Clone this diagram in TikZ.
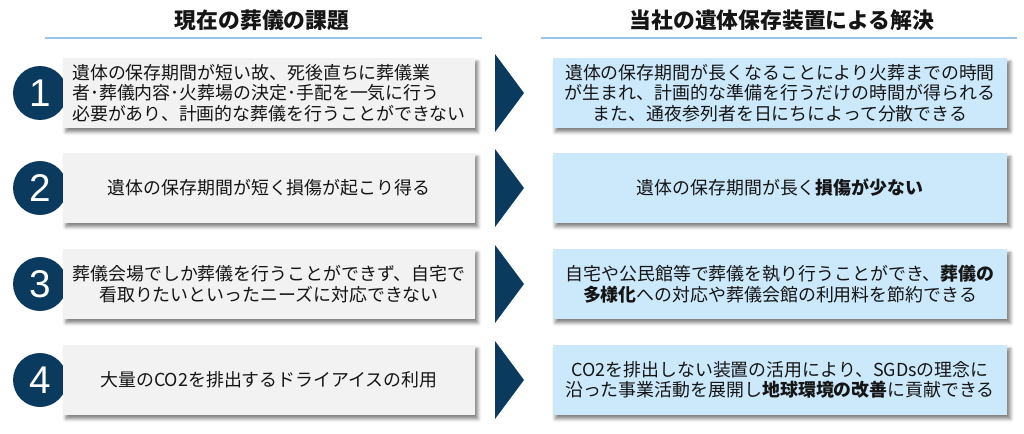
\documentclass[tikz,border=0pt]{standalone}
\usepackage{fontspec}
\setmainfont{Noto Sans CJK JP}
\newfontfamily\numfont{Liberation Sans}
\usetikzlibrary{shadows.blur}

\definecolor{navy}{HTML}{0B3A5F}
\definecolor{boxgray}{HTML}{F2F2F2}
\definecolor{boxblue}{HTML}{CCE9FC}
\definecolor{rulecol}{HTML}{9DC3E6}
\definecolor{inkcol}{HTML}{151515}

\tikzset{
  problem/.style={fill=boxgray, minimum width=8.24cm, minimum height=1.4cm,
    inner sep=2pt, text=inkcol, font=\fontsize{10.2}{11.7}\selectfont,
    blur shadow={shadow xshift=1.6pt, shadow yshift=-2.2pt,
      shadow blur radius=2pt, shadow opacity=50}},
  solution/.style={problem, fill=boxblue, minimum width=9.1cm},
  numdot/.style={circle, fill=navy, minimum size=1.08cm, inner sep=0pt,
    text=white, font=\numfont\fontsize{22}{22}\selectfont},
  heading/.style={text=inkcol, font=\fontsize{12.4}{14}\selectfont\bfseries},
}

\begin{document}
\begin{tikzpicture}[x=0.02cm, y=-0.02cm]

    % Page frame (1024 x 433 px)
    \useasboundingbox (0,0) rectangle (1024,433);

    % Column headings with their rules
    \node[heading] (hleft) at (262,20) {現在の葬儀の課題};
    \node[heading] (hright) at (782,20) {当社の遺体保存装置による解決};
    \draw[rulecol, line width=0.6pt] (45,38) -- (482,38);
    \draw[rulecol, line width=0.6pt] (541,38) -- (1017,38);

    % Numbered circles
    \node[numdot] (n1) at (40,93) {1};
    \node[numdot] (n2) at (40,188) {2};
    \node[numdot] (n3) at (40,284) {3};
    \node[numdot] (n4) at (40,380) {4};

    % Current problems (left column)
    \node[problem, align=left] (p1) at (269,93)
      {遺体の保存期間が短い故、死後直ちに葬儀業\\
       者･葬儀内容･火葬場の決定･手配を一気に行う\\
       必要があり、計画的な葬儀を行うことができない};
    \node[problem] (p2) at (269,188) {遺体の保存期間が短く損傷が起こり得る};
    \node[problem, align=center] (p3) at (269,284)
      {葬儀会場でしか葬儀を行うことができず、自宅で\\
       看取りたいといったニーズに対応できない};
    \node[problem] (p4) at (269,380) {大量のCO2を排出するドライアイスの利用};

    % Arrows between the columns
    \foreach \y in {93,188,284,380}
      \fill[navy] (495,\y-39) -- (524,\y) -- (495,\y+39) -- cycle;

    % Solutions (right column)
    \node[solution, align=center] (s1) at (780,93)
      {遺体の保存期間が長くなることにより火葬までの時間\\
       が生まれ、計画的な準備を行うだけの時間が得られる\\
       また、通夜参列者を日にちによって分散できる};
    \node[solution] (s2) at (780,188) {遺体の保存期間が長く\textbf{損傷が少ない}};
    \node[solution, align=center] (s3) at (780,284)
      {自宅や公民館等で葬儀を執り行うことができ、\textbf{葬儀の}\\
       \textbf{多様化}への対応や葬儀会館の利用料を節約できる};
    \node[solution, align=center] (s4) at (780,380)
      {CO2を排出しない装置の活用により、SGDsの理念に\\
       沿った事業活動を展開し\textbf{地球環境の改善}に貢献できる};

\end{tikzpicture}
\end{document}
